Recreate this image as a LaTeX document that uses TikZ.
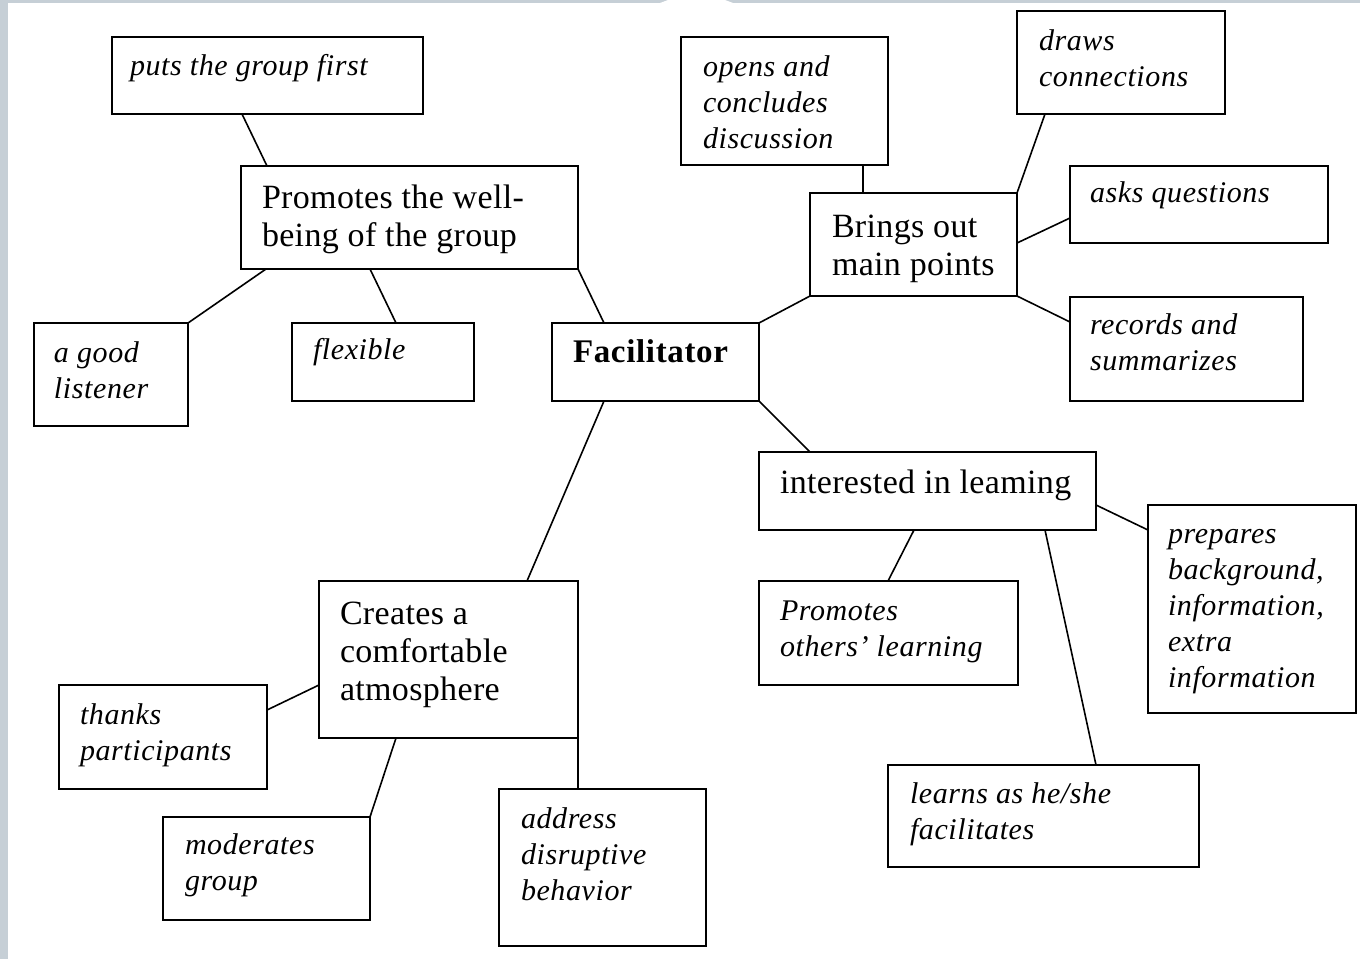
\documentclass[tikz,border=0pt]{standalone}
\usepackage{fontspec}
\setmainfont{Liberation Serif}[LetterSpace=1, ItalicFeatures={LetterSpace=2}, BoldFeatures={LetterSpace=2}]
\definecolor{bggrey}{RGB}{198,207,214}
\newcommand\btext[5]{\parbox[c][#2pt][t]{#1pt}{\leftskip=#3pt\parindent=0pt\rightskip=0pt plus 1fil\vspace*{\dimexpr#4pt-0.7\baselineskip\relax}\strut#5}}
\tikzset{
  box/.style={draw, line width=2pt, inner sep=0pt, outer sep=0pt, anchor=north west},
  mainf/.style={font=\fontsize{34}{38}\selectfont},
  itf/.style={font=\fontsize{30}{36}\selectfont\itshape},
  boldf/.style={font=\fontsize{33}{38}\selectfont\bfseries},
  link/.style={line width=1.6pt}
}
\begin{document}
\begin{tikzpicture}[x=1pt,y=-1pt]
\useasboundingbox (0,0) rectangle (1360,959);
\fill[bggrey] (0,0) rectangle (1360,959);
\fill[white] (8,959) -- (8,3) -- (660,3) -- (668,0) -- (725,0) -- (733,3) -- (1360,3) -- (1360,959) -- cycle;

% main nodes
\node[box,mainf] (promotes) at (241,166) {\btext{337}{103}{21}{42}{Promotes the well-\\being of the group}};
\node[box,boldf] (fac) at (552,323) {\btext{207}{78}{21}{39}{Facilitator}};
\node[box,mainf] (brings) at (810,193) {\btext{207}{103}{22}{44}{Brings out\\main points}};
\node[box,mainf] (interest) at (759,452) {\btext{337}{78}{21}{41}{interested in leaming}};
\node[box,mainf] (creates) at (319,581) {\btext{259}{157}{21}{43}{Creates a\\comfortable\\atmosphere}};

% italic leaves
\node[box,itf] (puts) at (112,37) {\btext{311}{77}{18}{38}{puts the group first}};
\node[box,itf] (listener) at (34,323) {\btext{154}{103}{20}{39}{a good\\listener}};
\node[box,itf] (flexible) at (292,323) {\btext{182}{78}{21}{36}{flexible}};
\node[box,itf] (opens) at (681,37) {\btext{207}{128}{22}{39}{opens and\\concludes\\discussion}};
\node[box,itf] (draws) at (1017,11) {\btext{208}{103}{22}{39}{draws\\connections}};
\node[box,itf] (asks) at (1070,166) {\btext{258}{77}{20}{36}{asks questions}};
\node[box,itf] (records) at (1070,297) {\btext{233}{104}{20}{37}{records and\\summarizes}};
\node[box,itf] (prepares) at (1148,505) {\btext{208}{208}{20}{38}{prepares\\background,\\information,\\extra\\information}};
\node[box,itf] (others) at (759,581) {\btext{259}{104}{21}{39}{Promotes\\others' learning}};
\node[box,itf] (learns) at (888,765) {\btext{311}{102}{22}{38}{learns as he/she\\facilitates}};
\node[box,itf] (thanks) at (59,685) {\btext{208}{104}{21}{39}{thanks\\participants}};
\node[box,itf] (moderates) at (163,817) {\btext{207}{103}{22}{37}{moderates\\group}};
\node[box,itf] (address) at (499,789) {\btext{207}{157}{22}{39}{address\\disruptive\\behavior}};

% connectors
\draw[link] ([xshift=130pt]puts.south west) -- ([xshift=26pt]promotes.north west);
\draw[link] ([xshift=25pt]promotes.south west) -- (listener.north east);
\draw[link] ([xshift=129pt]promotes.south west) -- ([xshift=104pt]flexible.north west);
\draw[link] (promotes.south east) -- ([xshift=52pt]fac.north west);
\draw[link] (fac.north east) -- (brings.south west);
\draw[link] ([xshift=53pt]brings.north west) -- ([xshift=182pt]opens.south west);
\draw[link] (brings.north east) -- ([xshift=28pt]draws.south west);
\draw[link] ([yshift=53pt]brings.south east) -- ([yshift=25pt]asks.south west);
\draw[link] (brings.south east) -- ([yshift=-25pt]records.north west);
\draw[link] (fac.south east) -- ([xshift=51pt]interest.north west);
\draw[link] ([xshift=52pt]fac.south west) -- ([xshift=208pt]creates.north west);
\draw[link] ([yshift=25pt]interest.south east) -- ([yshift=-25pt]prepares.north west);
\draw[link] ([xshift=155pt]interest.south west) -- ([xshift=129pt]others.north west);
\draw[link] ([xshift=286pt]interest.south west) -- ([xshift=208pt]learns.north west);
\draw[link] ([yshift=53pt]creates.south west) -- ([yshift=-25pt]thanks.north east);
\draw[link] ([xshift=77pt]creates.south west) -- (moderates.north east);
\draw[link] (creates.south east) -- ([xshift=79pt]address.north west);
\end{tikzpicture}
\end{document}
